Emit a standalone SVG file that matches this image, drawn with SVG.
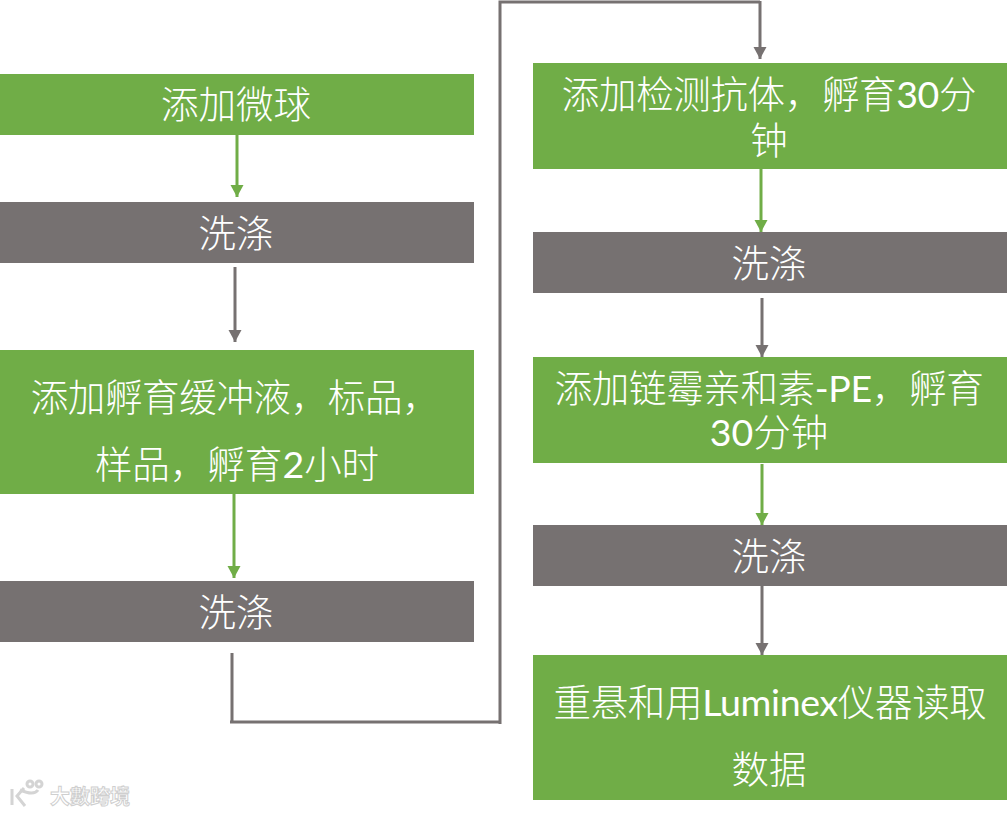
<svg xmlns="http://www.w3.org/2000/svg" width="1008" height="815" viewBox="0 0 1008 815">
<defs>
<marker id="ag" markerUnits="userSpaceOnUse" markerWidth="12" markerHeight="14" refX="12" refY="7" orient="auto"><path d="M0,0.5L12,7L0,13.5Z" fill="#70ad47"/></marker>
<marker id="ah" markerUnits="userSpaceOnUse" markerWidth="12" markerHeight="14" refX="12" refY="7" orient="auto"><path d="M0,0.5L12,7L0,13.5Z" fill="#767171"/></marker>
</defs>
<style>
.g{fill:#70ad47}.h{fill:#767171}
text{font-family:"Lato","Noto Sans CJK SC",sans-serif;font-size:37.5px;font-weight:300;fill:#fff;text-anchor:middle}
.l{font-weight:400}
.t{letter-spacing:-0.35px}
.cg{stroke:#70ad47;stroke-width:3;fill:none;marker-end:url(#ag)}
.ch{stroke:#767171;stroke-width:3;fill:none;marker-end:url(#ah)}
.cn{stroke:#767171;stroke-width:3;fill:none}
#wm text{font-size:20px;font-weight:700;fill:#fff;stroke:#cfcfcf;stroke-width:1;text-anchor:start;font-family:"Noto Sans CJK TC",sans-serif}
#wm path,#wm circle{fill:none;stroke:#d4d4d4;stroke-width:3}
</style>
<rect width="1008" height="815" fill="#fff"/>
<g id="connectors">
<path class="cg" d="M237,135V197"/>
<path class="ch" d="M235,267V342"/>
<path class="cg" d="M234,494V578"/>
<path class="cn" d="M232,653V722M230,722H500M500,724V2H760"/>
<path class="ch" d="M760,1V59"/>
<path class="cg" d="M761,169V232"/>
<path class="ch" d="M762,298V357"/>
<path class="cg" d="M762,464V525"/>
<path class="ch" d="M762,586V655"/>
</g>
<g id="n1"><rect class="g" x="0" y="74" width="474" height="61"/><text x="236" y="118">添加微球</text></g>
<g id="n2"><rect class="h" x="0" y="202" width="474" height="61"/><text x="236" y="247">洗涤</text></g>
<g id="n3"><rect class="g" x="0" y="350" width="474" height="144"/><text class="t" x="235" y="411">添加孵育缓冲液，标品，</text><text x="237" y="478">样品，孵育<tspan class="l">2</tspan>小时</text></g>
<g id="n4"><rect class="h" x="0" y="581" width="474" height="61"/><text x="236" y="626">洗涤</text></g>
<g id="n5"><rect class="g" x="533" y="63" width="474" height="106"/><text class="t" x="769" y="108">添加检测抗体，孵育<tspan class="l">30</tspan>分</text><text x="769" y="154">钟</text></g>
<g id="n6"><rect class="h" x="533" y="232" width="474" height="61"/><text x="769" y="277">洗涤</text></g>
<g id="n7"><rect class="g" x="533" y="357" width="474" height="106"/><text class="t" x="769" y="402">添加链霉亲和素<tspan class="l">-PE</tspan>，孵育</text><text x="769" y="446"><tspan class="l">30</tspan>分钟</text></g>
<g id="n8"><rect class="h" x="533" y="525" width="474" height="61"/><text x="769" y="570">洗涤</text></g>
<g id="n9"><rect class="g" x="533" y="655" width="474" height="145"/><text class="t" x="770" y="716">重悬和用<tspan class="l">Luminex</tspan>仪器读取</text><text x="769" y="783">数据</text></g>
<g id="wm">
<path d="M12,789V805M24,788L17,796L25,806"/><path d="M20,790Q34,796 38,790"/><circle cx="30" cy="784" r="3"/><circle cx="39" cy="784" r="3"/>
<text x="50" y="804">大數跨境</text>
</g>
</svg>
